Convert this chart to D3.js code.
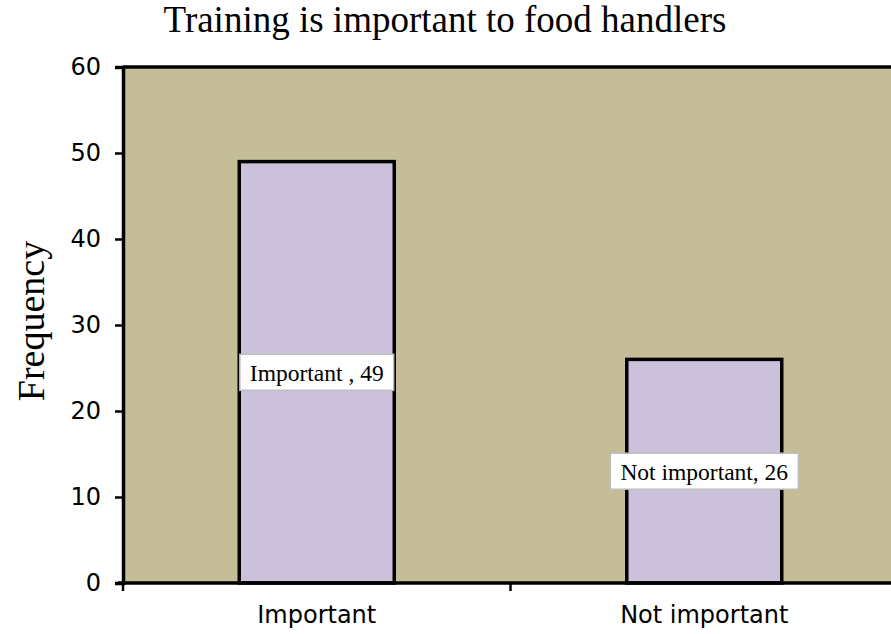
<!DOCTYPE html>
<html>
<head>
<meta charset="utf-8">
<script src="https://cdn.jsdelivr.net/npm/d3@7"></script>
<style>
  html, body { margin: 0; padding: 0; background: #ffffff; }
  svg { display: block; }
</style>
</head>
<body>
<svg id="chart" width="891" height="634"></svg>
<script>
const categories = ["Important", "Not important"];
const values = [49, 26];
const dataLabels = ["Important , 49", "Not important, 26"];
const yTicks = [0, 10, 20, 30, 40, 50, 60];
const titleText = "Training is important to food handlers";
const yAxisTitle = "Frequency";

(function() {
const svg = d3.select("#chart");
const pLeft = 123, pRight = 898, pTop = 67, pBottom = 583;

const y = d3.scaleLinear().domain([0, 60]).range([pBottom, pTop]);
const x = d3.scaleBand().domain(categories).range([pLeft, pRight])
  .paddingInner(0.6).paddingOuter(0.3);
const xCat = d3.scaleBand().domain(categories).range([pLeft, pRight]).padding(0);

// plot area
svg.append("rect")
  .attr("x", pLeft).attr("y", pTop)
  .attr("width", pRight - pLeft).attr("height", pBottom - pTop)
  .attr("fill", "#C4BD97");
svg.append("line")
  .attr("x1", pLeft).attr("x2", pRight)
  .attr("y1", pTop).attr("y2", pTop)
  .attr("stroke", "#000").attr("stroke-width", 3.5);

// bars
svg.selectAll("rect.bar")
  .data(values)
  .enter().append("rect")
  .attr("class", "bar")
  .attr("x", (d, i) => x(categories[i]))
  .attr("y", d => y(d))
  .attr("width", x.bandwidth())
  .attr("height", d => y(0) - y(d))
  .attr("fill", "#CCC1DA")
  .attr("stroke", "#000")
  .attr("stroke-width", 3.5);

// y axis
const yAxis = d3.axisLeft(y).tickValues(yTicks).tickSize(8).tickPadding(14);
const gy = svg.append("g").attr("transform", `translate(${pLeft},0)`).call(yAxis);
gy.select(".domain").attr("stroke", "#000").attr("stroke-width", 3.5);
gy.selectAll(".tick line").attr("stroke", "#000").attr("stroke-width", 2.5);
gy.selectAll(".tick text")
  .attr("font-family", "DejaVu Sans, Verdana, sans-serif")
  .attr("font-size", "24px").attr("fill", "#000");

// x axis (ticks at category boundaries)
const boundaries = categories.map(c => xCat(c)).concat([xCat(categories[categories.length - 1]) + xCat.bandwidth()]);
const gx = svg.append("g");
gx.append("line")
  .attr("x1", pLeft - 5).attr("x2", pRight)
  .attr("y1", pBottom).attr("y2", pBottom)
  .attr("stroke", "#000").attr("stroke-width", 3.5);
gx.selectAll("line.tk")
  .data(boundaries)
  .enter().append("line")
  .attr("class", "tk")
  .attr("x1", d => d).attr("x2", d => d)
  .attr("y1", pBottom).attr("y2", pBottom + 8)
  .attr("stroke", "#000").attr("stroke-width", 2.5);
gx.selectAll("text")
  .data(categories)
  .enter().append("text")
  .attr("x", d => xCat(d) + xCat.bandwidth() / 2)
  .attr("y", 623)
  .attr("text-anchor", "middle")
  .attr("font-family", "DejaVu Sans, Verdana, sans-serif")
  .attr("font-size", "24px")
  .attr("fill", "#000")
  .text(d => d);

// data labels
const lbl = svg.selectAll("g.lbl")
  .data(values)
  .enter().append("g")
  .attr("class", "lbl")
  .attr("transform", (d, i) => `translate(${x(categories[i]) + x.bandwidth() / 2},${y(d / 2)})`);
lbl.append("text")
  .attr("text-anchor", "middle")
  .attr("y", 8.5)
  .attr("font-family", "Liberation Serif, Times New Roman, serif")
  .attr("font-size", "23.5px")
  .attr("fill", "#000")
  .text((d, i) => dataLabels[i]);
lbl.each(function() {
  const g = d3.select(this);
  const bb = g.select("text").node().getBBox();
  g.insert("rect", "text")
    .attr("x", bb.x - 10).attr("y", -18)
    .attr("width", bb.width + 20).attr("height", 36)
    .attr("fill", "#fff")
    .attr("stroke", "#bfbfbf").attr("stroke-width", 1.5);
});

// title
svg.append("text")
  .attr("x", 445).attr("y", 32)
  .attr("text-anchor", "middle")
  .attr("font-family", "Liberation Serif, Times New Roman, serif")
  .attr("font-size", "37px")
  .attr("fill", "#000")
  .text(titleText);

// y axis title
svg.append("text")
  .attr("transform", "translate(44,321) rotate(-90)")
  .attr("text-anchor", "middle")
  .attr("font-family", "Liberation Serif, Times New Roman, serif")
  .attr("font-size", "38px")
  .attr("fill", "#000")
  .text(yAxisTitle);
})();
</script>
</body>
</html>
